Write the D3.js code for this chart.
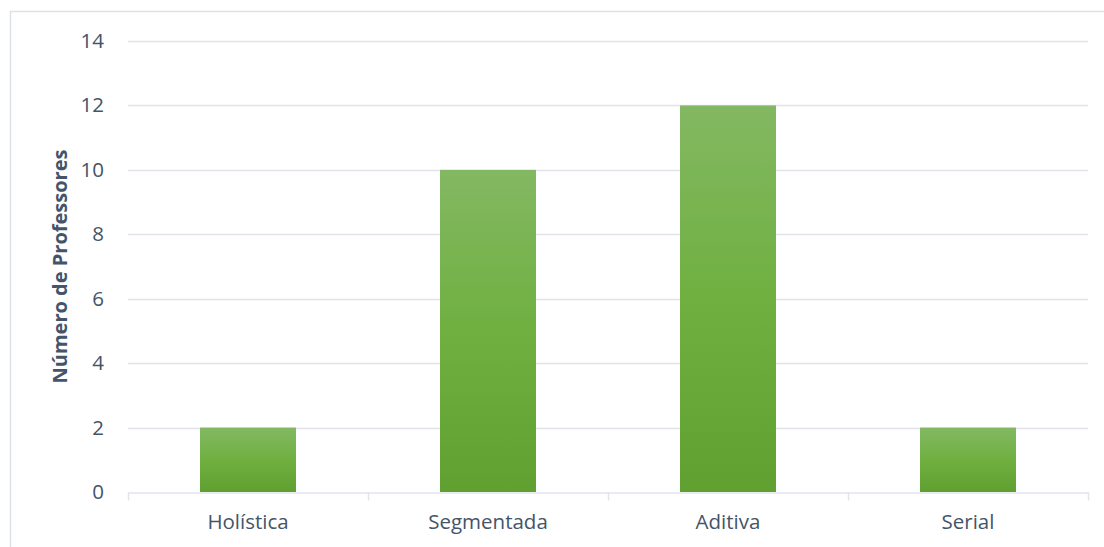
<!DOCTYPE html>
<html><head><meta charset="utf-8">
<script src="https://cdn.jsdelivr.net/npm/d3@7"></script>
<style>body{margin:0;background:#fff}svg{display:block}</style>
</head><body>
<script>
const categories = ["Holística", "Segmentada", "Aditiva", "Serial"];
const values = [2, 10, 12, 2];
const yTicks = [0, 2, 4, 6, 8, 10, 12, 14];
const yTitle = "Número de Professores";

const W = 1104, H = 547;
const m = {left: 128, right: 16, top: 41, bottom: 55};
const font = "'Open Sans', sans-serif";
const textColor = "#44546A";
const gridColor = "#E1E4EA";

const svg = d3.select("body").append("svg").attr("width", W).attr("height", H);
const defs = svg.append("defs");
const grad = defs.append("linearGradient").attr("id", "g").attr("x1", 0).attr("y1", 0).attr("x2", 0).attr("y2", 1);
grad.append("stop").attr("offset", "0%").attr("stop-color", "#83B862");
grad.append("stop").attr("offset", "50%").attr("stop-color", "#6FB040");
grad.append("stop").attr("offset", "100%").attr("stop-color", "#60A030");

// chart border
svg.append("rect").attr("x", 10.5).attr("y", 11.5).attr("width", W).attr("height", H)
  .attr("fill", "none").attr("stroke", "#DDE2EA").attr("stroke-width", 1.5);

const x = d3.scaleBand().domain(categories).range([m.left, W - m.right]).paddingInner(0.6).paddingOuter(0.3);
const xb = d3.scaleBand().domain(categories).range([m.left, W - m.right]);
const y = d3.scaleLinear().domain([0, 14]).range([H - m.bottom, m.top]);

// grid
svg.append("g").selectAll("line").data(yTicks.filter(d => d > 0)).join("line")
  .attr("x1", m.left).attr("x2", W - m.right)
  .attr("y1", d => Math.round(y(d)) + 0.5).attr("y2", d => Math.round(y(d)) + 0.5)
  .attr("stroke", gridColor).attr("stroke-width", 1.5);

// y labels
const yAxis = svg.append("g").attr("transform", `translate(${m.left},0)`)
  .call(d3.axisLeft(y).tickValues(yTicks).tickSize(0).tickPadding(24));
yAxis.select(".domain").remove();
yAxis.selectAll("text").attr("font-family", font).attr("font-size", 20.5).attr("fill", textColor);

// bars
svg.append("g").selectAll("rect").data(values).join("rect")
  .attr("x", (d, i) => x(categories[i])).attr("width", x.bandwidth())
  .attr("y", d => y(d)).attr("height", d => y(0) - y(d))
  .attr("fill", "url(#g)");

// x axis
const xAxis = svg.append("g").attr("transform", `translate(0,${Math.round(y(0)) + 0.5})`)
  .call(d3.axisBottom(xb).tickSize(0).tickPadding(22));
xAxis.select(".domain").attr("stroke", gridColor).attr("stroke-width", 1.5);
xAxis.selectAll("text").attr("font-family", font).attr("font-size", 20.5).attr("fill", textColor);
// category boundary ticks
const bounds = categories.map(c => xb(c)).concat([W - m.right]);
xAxis.append("g").selectAll("line").data(bounds).join("line")
  .attr("x1", d => Math.round(d) + 0.5).attr("x2", d => Math.round(d) + 0.5)
  .attr("y1", 0).attr("y2", 8).attr("stroke", gridColor).attr("stroke-width", 1.5);

// y title
svg.append("text").attr("transform", `translate(67,${(y(0) + y(14)) / 2}) rotate(-90)`)
  .attr("text-anchor", "middle").attr("font-family", font).attr("font-size", 20)
  .attr("font-weight", "bold").attr("fill", textColor).text(yTitle);
</script>
</body></html>
